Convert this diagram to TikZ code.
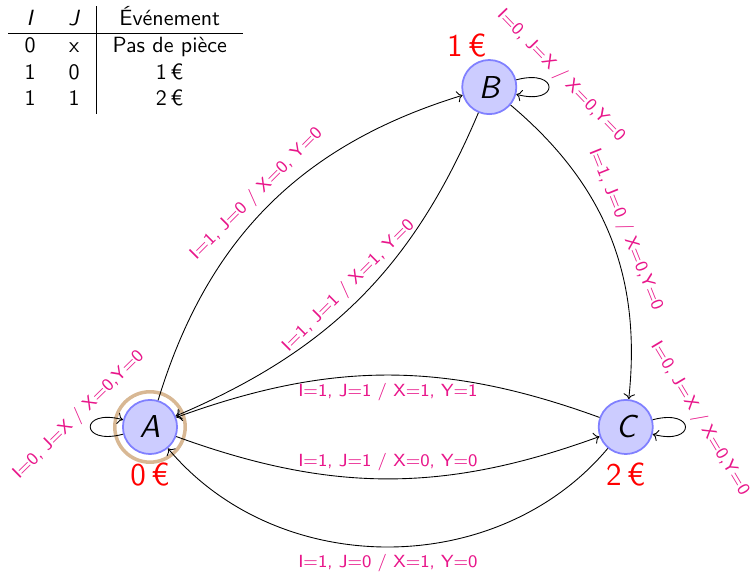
\documentclass[tikz,border=0pt]{standalone}
\usepackage{tikz}
\usetikzlibrary{arrows.meta,positioning,calc}
\renewcommand{\familydefault}{\sfdefault}
\definecolor{trlabel}{HTML}{E8168A}
\definecolor{ringcol}{HTML}{D8B894}
\tikzset{
  st/.style    = {circle,draw=blue!50,fill=blue!20,thick,minimum size=24.6pt,
                  inner sep=0pt,font=\Large\itshape},
  tr/.style    = {->},
  lbl/.style   = {font=\footnotesize,text=trlabel},
  money/.style = {font=\Large,text=red},
  ring/.style  = {draw=ringcol,line width=1.6pt},
}

\begin{document}
\begin{tikzpicture}
  \useasboundingbox (-2.396,-2.332) rectangle (9.649,6.821);

  % table of the coins
  \node[anchor=north west,inner sep=0pt] (tab) at (-2.268,6.725) {%
    \setlength{\tabcolsep}{7.4pt}%
    \begin{tabular}{cc|c}
      \textit{I} & \textit{J} & Événement\\ \hline
      0 & x & Pas de pièce\\
      1 & 0 & 1\,€\\
      1 & 1 & 2\,€
    \end{tabular}};

  % states
  \draw[ring] (0,0) circle (16pt);
  \node[st] (A) at (0,0) {A};
  \node[st] (B) at (5.42,5.43) {B};
  \node[st] (C) at (7.6,0) {C};

  \node[money,below=0pt of A] (pA) {0\,€};
  \node[money] (pB) at ($(B)+(-0.36,0.67)$) {1\,€};
  \node[money,below=0pt of C] (pC) {2\,€};

  % transitions
  \draw[tr] (A) to[loop left] node[lbl,above,rotate=44.5] (lAA)
        {I=0, J=X / X=0,Y=0} (A);
  \draw[tr] (B) to[loop right] node[lbl,above,rotate=-46] (lBB)
        {I=0, J=X / X=0,Y=0} (B);
  \draw[tr] (C) to[loop right] node[lbl,above,rotate=-59] (lCC)
        {I=0, J=X / X=0,Y=0} (C);

  \draw[tr] (A) to[bend left=28] node[lbl,sloped,above] (lAB)
        {I=1, J=0 / X=0, Y=0} (B);
  \draw[tr] (B) to[bend left=22] node[lbl,sloped,above] (lBA)
        {I=1, J=1 / X=1, Y=0} (A);
  \draw[tr] (B) to[bend left=28] node[lbl,sloped,above] (lBC)
        {I=1, J=0 / X=0,Y=0} (C);
  \draw[tr] (C) to[bend right=20] node[lbl,below] (lCA)
        {I=1, J=1 / X=1, Y=1} (A);
  \draw[tr] (A) to[bend right=20] node[lbl,above] (lAC)
        {I=1, J=1 / X=0, Y=0} (C);
  \draw[tr] (C) to[bend left=50] node[lbl,below] (lCAb)
        {I=1, J=0 / X=1, Y=0} (A);
\end{tikzpicture}
\end{document}
